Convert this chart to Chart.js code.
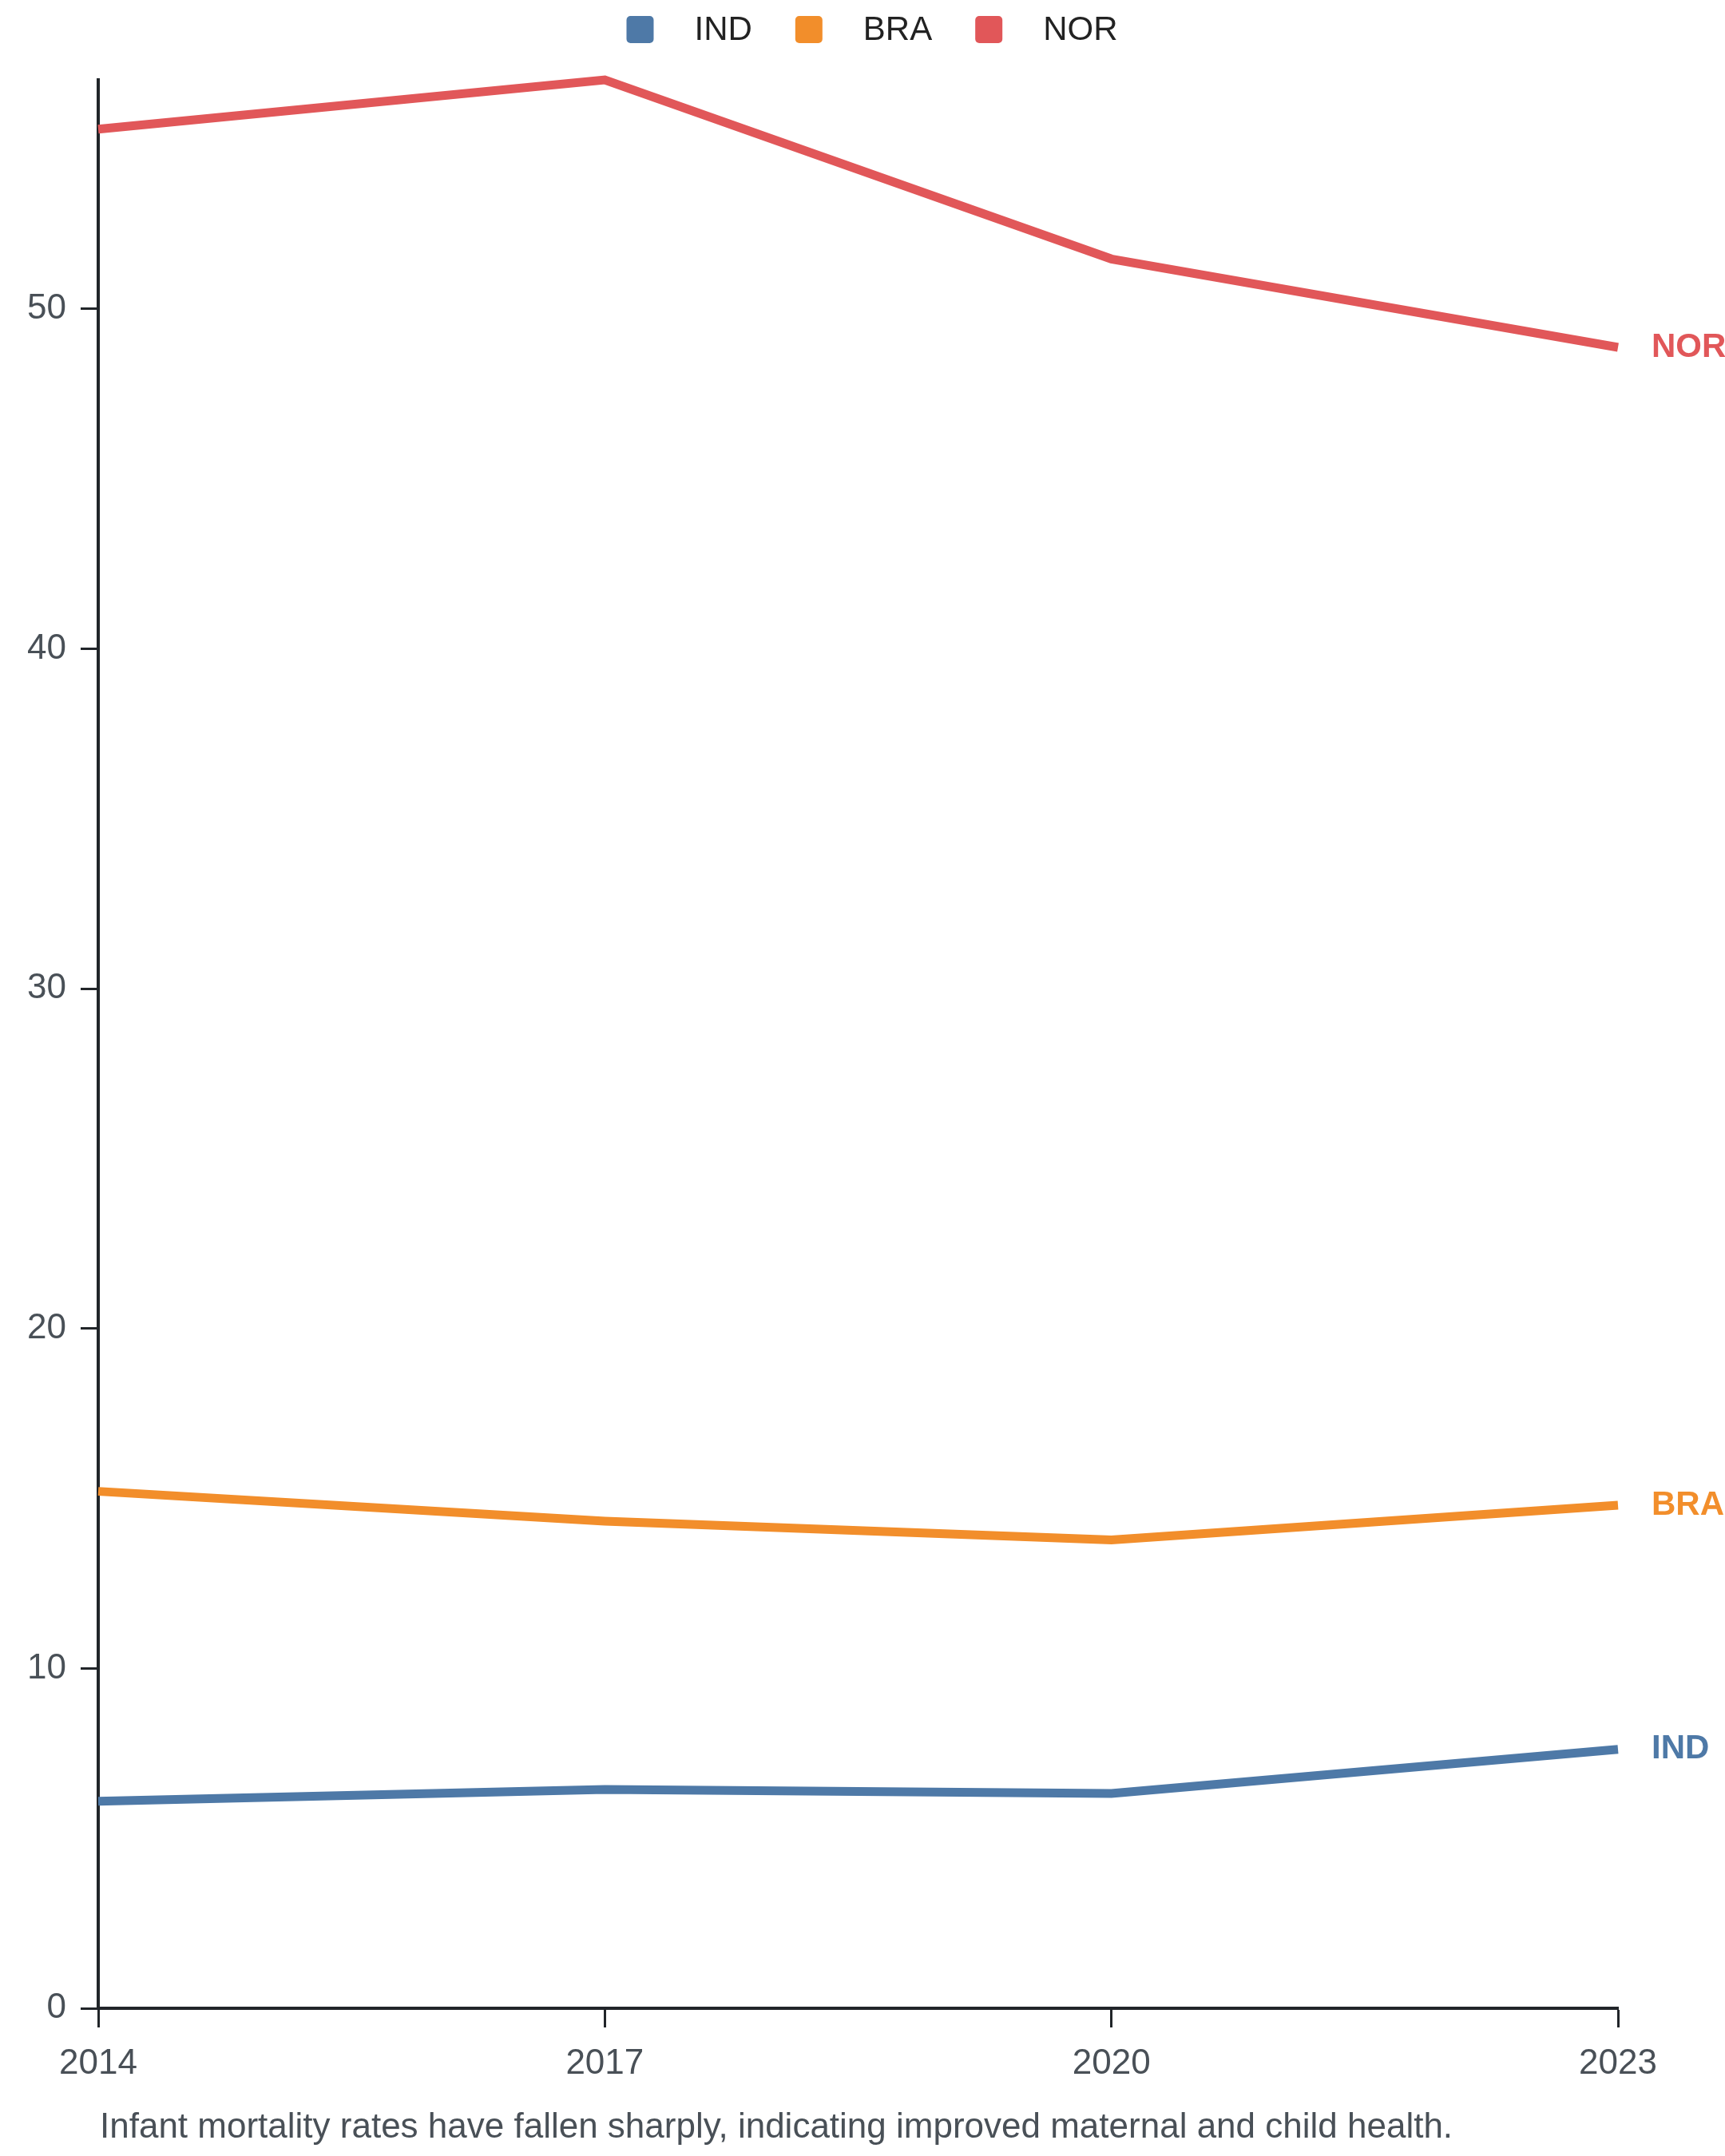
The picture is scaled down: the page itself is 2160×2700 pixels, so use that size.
<!DOCTYPE html>
<html>
<head>
<meta charset="utf-8">
<script src="https://cdn.jsdelivr.net/npm/chart.js@4.4.1/dist/chart.umd.min.js"></script>
<style>
  html, body { margin: 0; padding: 0; background: #ffffff; }
  #wrap { width: 2160px; height: 2700px; }
  canvas { display: block; }
</style>
</head>
<body>
<div id="wrap"><canvas id="c" width="2160" height="2700"></canvas></div>
<script>
// ---- data ----
const years = ['2014', '2017', '2020', '2023'];
const seriesNames = ['IND', 'BRA', 'NOR'];
const indValues = [6.09, 6.44, 6.32, 7.62];
const braValues = [15.21, 14.33, 13.78, 14.80];
const norValues = [55.29, 56.74, 51.47, 48.87];
const yTickStep = 10;
const caption = 'Infant mortality rates have fallen sharply, indicating improved maternal and child health.';

// ---- styles ----
const colors = ['#4e79a7', '#f28e2b', '#e15759'];
const FONT = '"Liberation Sans", Arial, Helvetica, sans-serif';
const axisColor = '#212529';
const textGrey = '#495057';

Chart.defaults.font.family = FONT;
Chart.defaults.devicePixelRatio = 1;

const allValues = [indValues, braValues, norValues];
const yMax = Math.max(...allValues.flat());

const datasets = seriesNames.map((name, i) => ({
  label: name,
  data: allValues[i],
  borderColor: colors[i],
  backgroundColor: colors[i],
  borderWidth: 11,
  pointRadius: 0,
  pointHoverRadius: 0,
  tension: 0,
  fill: false,
  clip: false,
  borderCapStyle: 'butt',
  borderJoinStyle: 'miter'
}));

const customLegend = {
  id: 'customLegend',
  afterDraw(chart) {
    const ctx = chart.ctx;
    ctx.save();
    ctx.font = '42px ' + FONT;
    ctx.textBaseline = 'middle';
    const box = 34, gapText = 51, gapItem = 54;
    const items = chart.data.datasets.map(d => ({ label: d.label, color: d.borderColor, w: ctx.measureText(d.label).width }));
    const total = items.reduce((s, it) => s + box + gapText + it.w, 0) + gapItem * (items.length - 1);
    let x = chart.width / 2 - total / 2 + 12;
    const cy = 37;
    items.forEach(it => {
      ctx.fillStyle = it.color;
      ctx.beginPath();
      if (ctx.roundRect) ctx.roundRect(x, cy - box / 2, box, box, 5); else ctx.rect(x, cy - box / 2, box, box);
      ctx.fill();
      ctx.fillStyle = '#222222';
      ctx.textAlign = 'left';
      ctx.fillText(it.label, x + box + gapText, cy + 1);
      x += box + gapText + it.w + gapItem;
    });
    ctx.restore();
  }
};

const endLabels = {
  id: 'endLabels',
  afterDatasetsDraw(chart) {
    const ctx = chart.ctx;
    ctx.save();
    ctx.font = 'bold 42px ' + FONT;
    ctx.textAlign = 'left';
    ctx.textBaseline = 'middle';
    chart.data.datasets.forEach((d, i) => {
      const meta = chart.getDatasetMeta(i);
      const pt = meta.data[meta.data.length - 1];
      ctx.fillStyle = d.borderColor;
      ctx.fillText(d.label, pt.x + 42, pt.y);
    });
    ctx.restore();
  }
};

const captionPlugin = {
  id: 'caption',
  afterDraw(chart) {
    const ctx = chart.ctx;
    ctx.save();
    ctx.font = '44px ' + FONT;
    ctx.fillStyle = textGrey;
    ctx.textAlign = 'left';
    ctx.textBaseline = 'middle';
    ctx.fillText(caption, chart.chartArea.left + 2, 2665);
    ctx.restore();
  }
};

new Chart(document.getElementById('c'), {
  type: 'line',
  data: { labels: years, datasets },
  options: {
    responsive: false,
    animation: false,
    layout: { padding: { top: 100, right: 134, bottom: 0, left: 0 } },
    plugins: {
      legend: { display: false },
      tooltip: { enabled: false },
      title: { display: false }
    },
    scales: {
      x: {
        type: 'category',
        offset: false,
        afterFit(scale) { scale.height = 185; },
        grid: { display: true, drawOnChartArea: false, drawTicks: true, tickLength: 24, tickColor: axisColor, tickWidth: 3 },
        border: { display: true, color: axisColor, width: 4 },
        ticks: { color: textGrey, font: { size: 44 }, padding: 19, maxRotation: 0, autoSkip: false }
      },
      y: {
        type: 'linear',
        min: 0,
        max: yMax,
        afterFit(scale) { scale.width = 123; },
        afterBuildTicks(scale) { scale.ticks = scale.ticks.filter(t => t.value % yTickStep === 0); },
        grid: { display: true, drawOnChartArea: false, drawTicks: true, tickLength: 22, tickColor: axisColor, tickWidth: 3 },
        border: { display: true, color: axisColor, width: 4 },
        ticks: { stepSize: yTickStep, color: textGrey, font: { size: 44 }, padding: 18 }
      }
    }
  },
  plugins: [customLegend, endLabels, captionPlugin]
});
</script>
</body>
</html>
